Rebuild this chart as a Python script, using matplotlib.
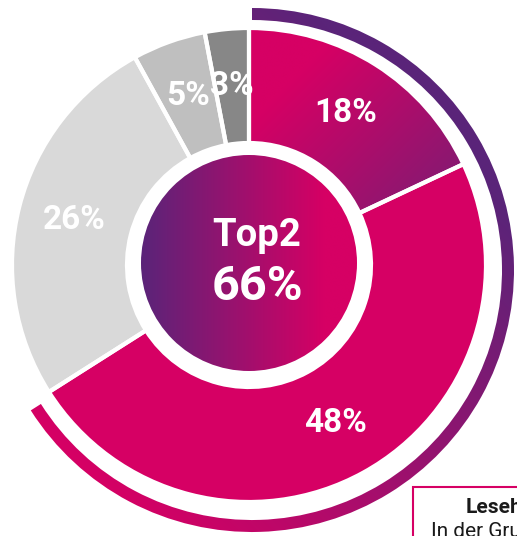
import matplotlib
matplotlib.use("Agg")
import matplotlib.pyplot as plt
import numpy as np
from matplotlib.patches import Circle, Rectangle
from matplotlib.colors import to_rgb

# data
labels = ["18%", "48%", "26%", "5%", "3%"]
values = [18, 48, 26, 5, 3]
top2 = values[0] + values[1]
center_title = "Top2"
box_title = "Lesehilfe"
box_text = "In der Gruppe der Befragten"

magenta = "#d60064"
purple = "#5a2479"
grays = ["#d9d9d9", "#bfbfbf", "#878787"]

W, H = 517, 536
cx, cy = 249, H - 265

plt.rcParams['font.family'] = ['Roboto', 'DejaVu Sans']

fig = plt.figure(figsize=(W / 100, H / 100), dpi=100)
ax = fig.add_axes([0, 0, 1, 1])


def gradient(x0, x1, y0, y1, c0, c1, d, clip, t0=0.0, t1=1.0):
    xs = np.linspace(x0, x1, 300)
    ys = np.linspace(y0, y1, 300)
    X, Y = np.meshgrid(xs, ys)
    p = X * d[0] + Y * d[1]
    t = (p - p.min()) / (p.max() - p.min())
    t = np.clip((t - t0) / (t1 - t0), 0, 1)[..., None]
    img = np.array(to_rgb(c0)) * (1 - t) + np.array(to_rgb(c1)) * t
    im = ax.imshow(img, extent=(x0, x1, y0, y1), origin="lower",
                   zorder=1.5, interpolation="bilinear")
    im.set_clip_path(clip)


# donut faces
R, Rin = 237, 122
colors = [magenta, magenta] + grays
wedges, _ = ax.pie(values, radius=R, center=(cx, cy), startangle=90,
                   counterclock=False, colors=colors,
                   wedgeprops=dict(width=R - Rin, linewidth=0))

# gradient on the 18% slice (magenta top-left -> purple bottom-right)
gradient(cx, cx + R, cy, cy + R, magenta, "#6a2276", (1, -1), wedges[0], 0.2, 0.95)

# white separators + labels
ax.pie(values, radius=R, center=(cx, cy), startangle=90, counterclock=False,
       colors=["none"] * len(values), labels=None,
       autopct=lambda p: f"{p:.0f}%", pctdistance=0.76,
       textprops=dict(color="white", fontsize=24, fontweight="bold"),
       wedgeprops=dict(width=R - Rin, linewidth=3, edgecolor="white", zorder=2))

# outer arc for Top2
ax_c = (cx + 3, H - 270)
arc, _ = ax.pie([top2, 100 - top2], radius=262, center=ax_c, startangle=90,
                counterclock=False, colors=["none", "none"],
                wedgeprops=dict(width=12, linewidth=0))
gradient(ax_c[0] - 264, ax_c[0] + 264, ax_c[1] - 264, ax_c[1] + 264, purple, magenta,
         (-1, -1), arc[0], 0.2, 0.85)

# center circle
circ = Circle((cx, cy + 2), 108, facecolor="none", edgecolor="none")
ax.add_patch(circ)
gradient(cx - 108, cx + 108, cy - 106, cy + 110, purple, magenta, (1, 0), circ, 0.0, 0.85)

ax.text(cx + 8, cy + 30, center_title, ha="center", va="center", color="white",
        fontsize=27.5, fontweight="bold", zorder=4)
ax.text(cx + 8, cy - 22, f"{top2}%", ha="center", va="center", color="white",
        fontsize=35, fontweight="bold", zorder=4)

# reading help box (cut off at the figure edge)
ax.add_patch(Rectangle((413, -20), 300, H - 487 + 20, facecolor="white",
                       edgecolor=magenta, linewidth=1.5, zorder=5))
ax.text(466, H - 513, box_title, fontsize=15, fontweight="bold", color="#1a1a1a",
        ha="left", va="baseline", zorder=6)
ax.text(431, H - 537, box_text, fontsize=15, color="#1a1a1a",
        ha="left", va="baseline", zorder=6)

ax.set_xlim(0, W)
ax.set_ylim(0, H)
ax.set_aspect("equal")
ax.axis("off")

fig.savefig("out.png", dpi=100)
